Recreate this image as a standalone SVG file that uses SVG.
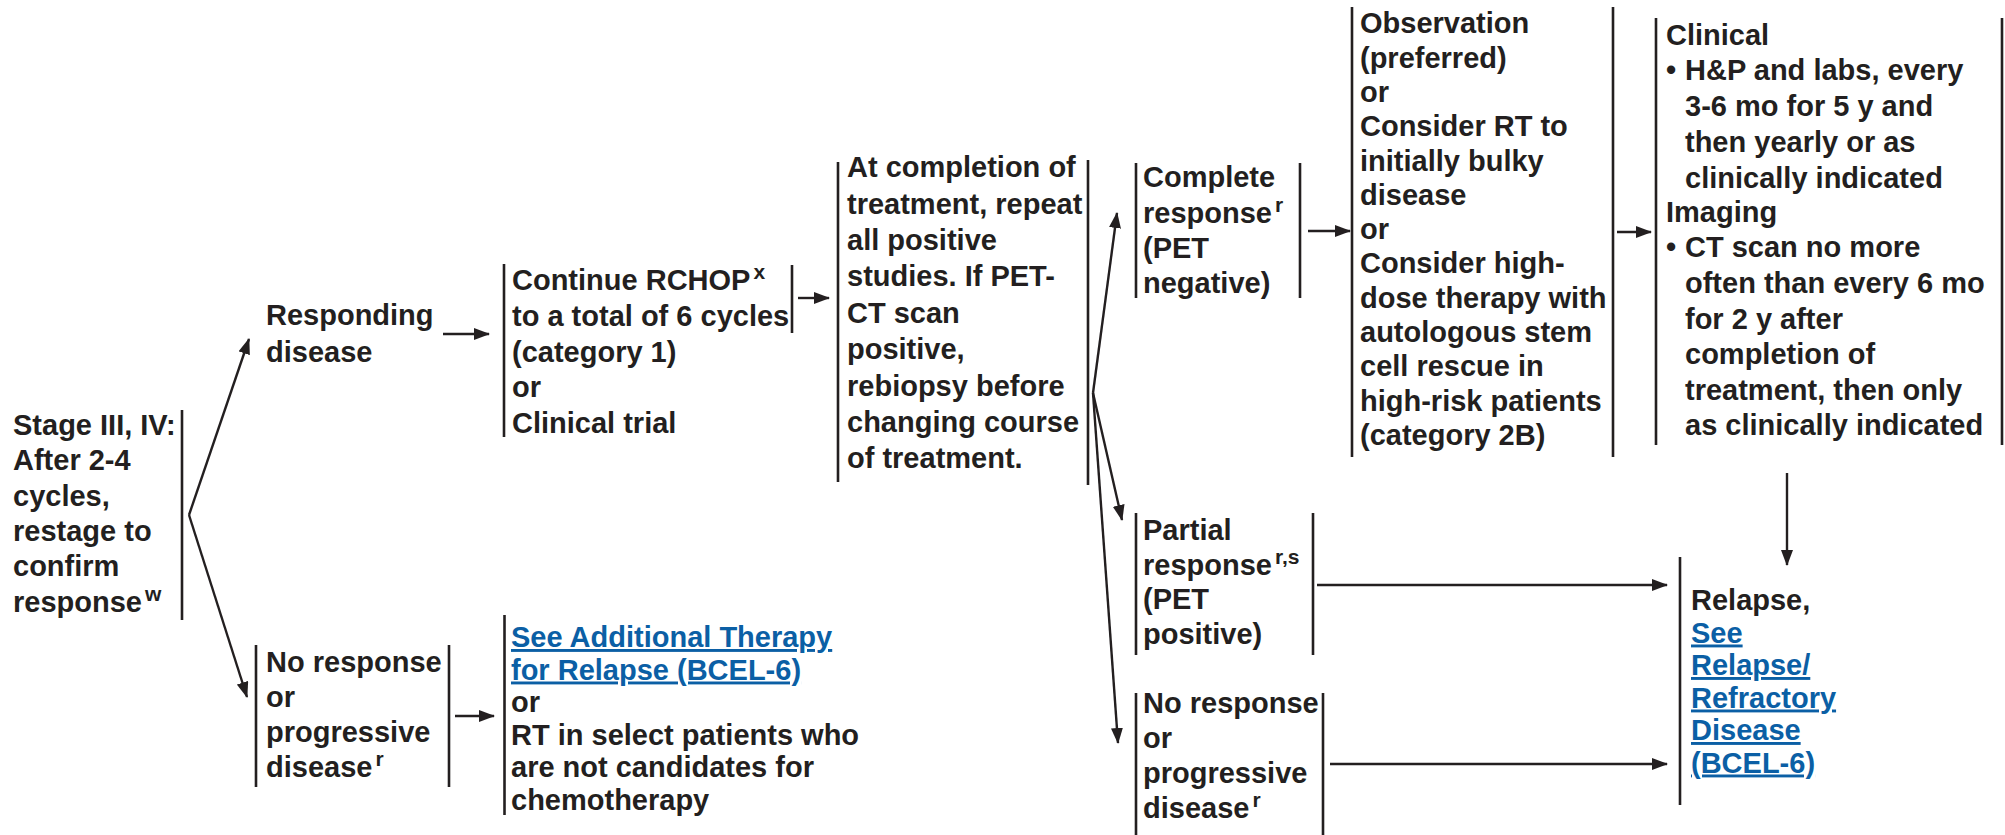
<svg xmlns="http://www.w3.org/2000/svg" width="2005" height="835" viewBox="0 0 2005 835">
<style>
text{font-family:"Liberation Sans",Arial,Helvetica,sans-serif;font-weight:bold;font-size:29px;fill:#231f20}
.sup{font-size:21px}
.lnk{fill:#0b5fa5;text-decoration:underline}
.bar{stroke:#231f20;stroke-width:2.6;fill:none}
.arr{stroke:#231f20;stroke-width:2.4;fill:none;marker-end:url(#ah)}
</style>
<defs>
<marker id="ah" markerUnits="userSpaceOnUse" markerWidth="16" markerHeight="12" refX="15" refY="6" orient="auto">
<path d="M0,0 L16,6 L0,12 z" fill="#231f20"/>
</marker>
</defs>
<rect width="2005" height="835" fill="#ffffff"/>

<g id="stage">
<text><tspan x="13" y="435">Stage III, IV:</tspan><tspan x="13" y="470.3">After 2-4</tspan><tspan x="13" y="505.7">cycles,</tspan><tspan x="13" y="541">restage to</tspan><tspan x="13" y="576.3">confirm</tspan><tspan x="13" y="611.7">response</tspan><tspan class="sup" dx="3" dy="-11">w</tspan></text>
<line class="bar" x1="182" y1="410" x2="182" y2="620"/>
</g>

<g id="responding">
<text><tspan x="266" y="325">Responding</tspan><tspan x="266" y="361.7">disease</tspan></text>
</g>

<g id="continue">
<line class="bar" x1="504" y1="264" x2="504" y2="437"/>
<text><tspan x="512" y="290">Continue RCHOP</tspan><tspan class="sup" dx="3" dy="-11">x</tspan><tspan x="512" y="326">to a total of 6 cycles</tspan><tspan x="512" y="362">(category 1)</tspan><tspan x="512" y="397">or</tspan><tspan x="512" y="433">Clinical trial</tspan></text>
<line class="bar" x1="792" y1="265" x2="792" y2="333"/>
</g>

<g id="nr-left">
<line class="bar" x1="256" y1="645" x2="256" y2="787"/>
<text><tspan x="266" y="671.7">No response</tspan><tspan x="266" y="706.7">or</tspan><tspan x="266" y="741.7">progressive</tspan><tspan x="266" y="776.7">disease</tspan><tspan class="sup" dx="3" dy="-11">r</tspan></text>
<line class="bar" x1="449" y1="645" x2="449" y2="787"/>
</g>

<g id="additional">
<line class="bar" x1="504.5" y1="615" x2="504.5" y2="815"/>
<text><tspan class="lnk" x="511" y="647">See Additional Therapy</tspan><tspan class="lnk" x="511" y="679.5">for Relapse (BCEL-6)</tspan><tspan x="511" y="712">or</tspan><tspan x="511" y="744.5">RT in select patients who</tspan><tspan x="511" y="777">are not candidates for</tspan><tspan x="511" y="809.5">chemotherapy</tspan></text>
</g>

<g id="completion">
<line class="bar" x1="838" y1="162" x2="838" y2="482"/>
<text><tspan x="847" y="177">At completion of</tspan><tspan x="847" y="213.5">treatment, repeat</tspan><tspan x="847" y="250">all positive</tspan><tspan x="847" y="286">studies. If PET-</tspan><tspan x="847" y="322.5">CT scan</tspan><tspan x="847" y="359">positive,</tspan><tspan x="847" y="395.5">rebiopsy before</tspan><tspan x="847" y="432">changing course</tspan><tspan x="847" y="468">of treatment.</tspan></text>
<line class="bar" x1="1088" y1="160" x2="1088" y2="485"/>
</g>

<g id="complete">
<line class="bar" x1="1136" y1="163" x2="1136" y2="298"/>
<text><tspan x="1143" y="187">Complete</tspan><tspan x="1143" y="223">response</tspan><tspan class="sup" dx="3" dy="-11">r</tspan><tspan x="1143" y="258">(PET</tspan><tspan x="1143" y="293">negative)</tspan></text>
<line class="bar" x1="1300" y1="163" x2="1300" y2="298"/>
</g>

<g id="partial">
<line class="bar" x1="1136" y1="513" x2="1136" y2="655"/>
<text><tspan x="1143" y="540">Partial</tspan><tspan x="1143" y="574.5">response</tspan><tspan class="sup" dx="3" dy="-11">r,s</tspan><tspan x="1143" y="609">(PET</tspan><tspan x="1143" y="643.5">positive)</tspan></text>
<line class="bar" x1="1313" y1="513" x2="1313" y2="655"/>
</g>

<g id="nr-right">
<line class="bar" x1="1136" y1="693" x2="1136" y2="835"/>
<text><tspan x="1143" y="713">No response</tspan><tspan x="1143" y="748">or</tspan><tspan x="1143" y="783">progressive</tspan><tspan x="1143" y="818">disease</tspan><tspan class="sup" dx="3" dy="-11">r</tspan></text>
<line class="bar" x1="1323" y1="693" x2="1323" y2="835"/>
</g>

<g id="observation">
<line class="bar" x1="1352" y1="7" x2="1352" y2="457"/>
<text><tspan x="1360" y="33.3">Observation</tspan><tspan x="1360" y="67.6">(preferred)</tspan><tspan x="1360" y="101.9">or</tspan><tspan x="1360" y="136.2">Consider RT to</tspan><tspan x="1360" y="170.5">initially bulky</tspan><tspan x="1360" y="204.8">disease</tspan><tspan x="1360" y="239.1">or</tspan><tspan x="1360" y="273.4">Consider high-</tspan><tspan x="1360" y="307.7">dose therapy with</tspan><tspan x="1360" y="342">autologous stem</tspan><tspan x="1360" y="376.3">cell rescue in</tspan><tspan x="1360" y="410.6">high-risk patients</tspan><tspan x="1360" y="444.9">(category 2B)</tspan></text>
<line class="bar" x1="1613" y1="7" x2="1613" y2="457"/>
</g>

<g id="followup">
<line class="bar" x1="1656" y1="18" x2="1656" y2="445"/>
<text><tspan x="1666" y="45">Clinical</tspan><tspan x="1666" y="80">•</tspan><tspan x="1685" y="80">H&amp;P and labs, every</tspan><tspan x="1685" y="116">3-6 mo for 5 y and</tspan><tspan x="1685" y="152">then yearly or as</tspan><tspan x="1685" y="188">clinically indicated</tspan><tspan x="1666" y="222">Imaging</tspan><tspan x="1666" y="257">•</tspan><tspan x="1685" y="257">CT scan no more</tspan><tspan x="1685" y="293">often than every 6 mo</tspan><tspan x="1685" y="328.5">for 2 y after</tspan><tspan x="1685" y="364">completion of</tspan><tspan x="1685" y="399.5">treatment, then only</tspan><tspan x="1685" y="435">as clinically indicated</tspan></text>
<line class="bar" x1="2002" y1="18" x2="2002" y2="445"/>
</g>

<g id="relapse">
<line class="bar" x1="1680" y1="557" x2="1680" y2="805"/>
<text><tspan x="1691" y="610">Relapse,</tspan><tspan class="lnk" x="1691" y="642.5">See</tspan><tspan class="lnk" x="1691" y="675">Relapse/</tspan><tspan class="lnk" x="1691" y="707.5">Refractory</tspan><tspan class="lnk" x="1691" y="740">Disease</tspan><tspan class="lnk" x="1691" y="772.5">(BCEL-6)</tspan></text>
</g>

<g id="connectors">
<path class="arr" d="M189,515 L249,339"/>
<path class="arr" d="M189,515 L247,697"/>
<path class="arr" d="M443,334 L489,334"/>
<path class="arr" d="M455,716 L494,716"/>
<path class="arr" d="M798,298 L829,298"/>
<path class="arr" d="M1093,393 L1117,213"/>
<path class="arr" d="M1093,393 L1122,520"/>
<path class="arr" d="M1093,393 L1118,743"/>
<path class="arr" d="M1308,231 L1350,231"/>
<path class="arr" d="M1617,232 L1651,232"/>
<path class="arr" d="M1317,585 L1667,585"/>
<path class="arr" d="M1330,764 L1667,764"/>
<path class="arr" d="M1787,473 L1787,565"/>
</g>
</svg>
